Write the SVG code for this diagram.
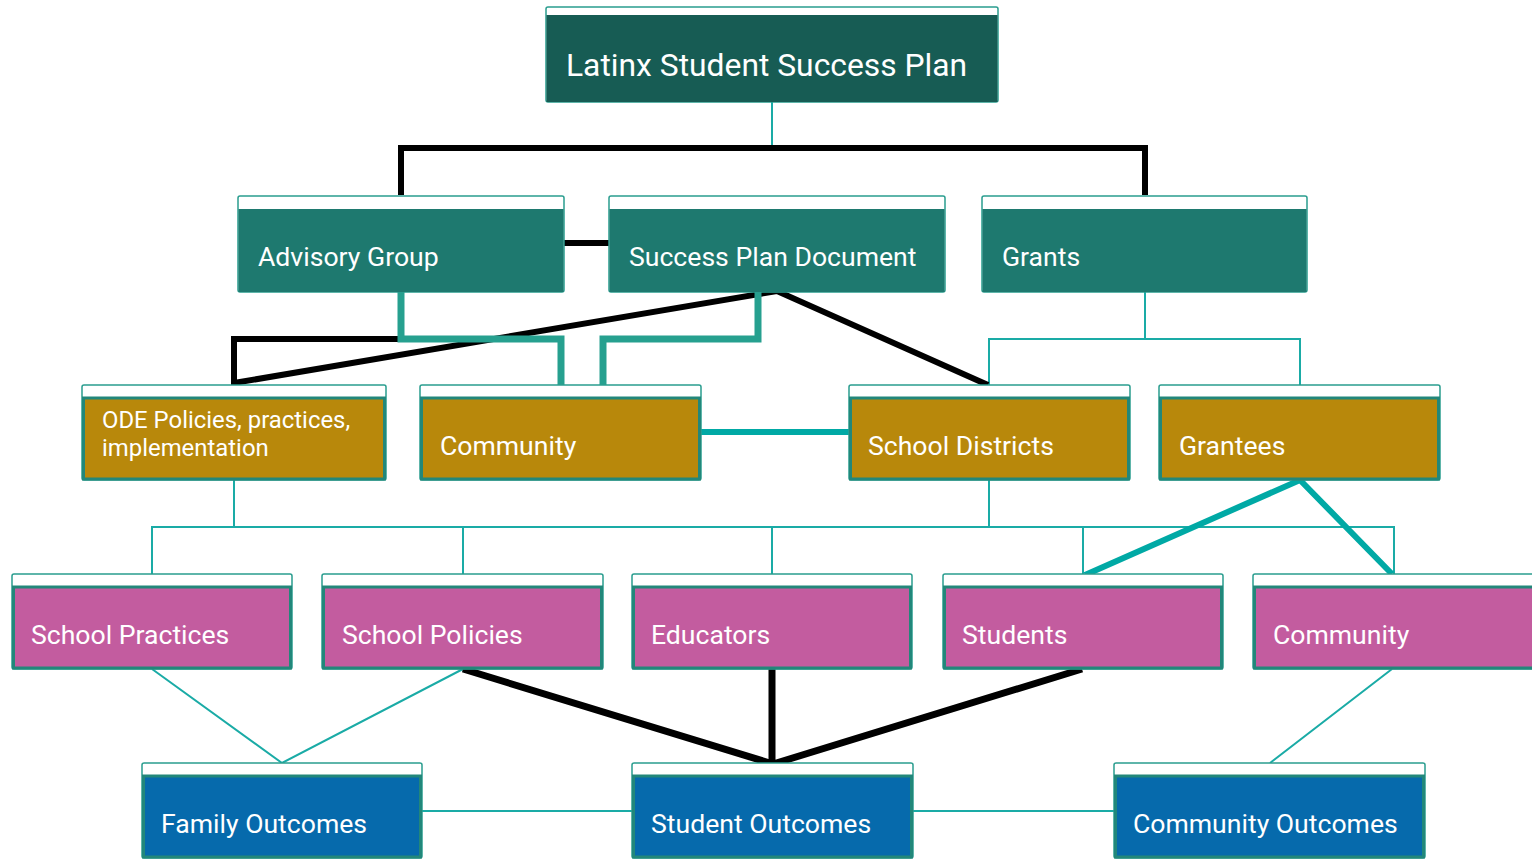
<svg xmlns="http://www.w3.org/2000/svg" width="1532" height="860" viewBox="0 0 1532 860">
<style>
.frame{fill:#ffffff;stroke:#2a9d8f;stroke-width:1.5}
.t1{fill:#175c54}
.t2{fill:#1e796f}
.gold{fill:#b8880b;stroke:#22877a;stroke-width:3}
.pink{fill:#c35c9f;stroke:#22877a;stroke-width:3}
.blue{fill:#066aac;stroke:#22877a;stroke-width:3}
.lbl{font-family:Roboto,"Liberation Sans",sans-serif;fill:#ffffff;font-size:26.6px}
.blk{fill:none;stroke:#000000;stroke-width:6}
.tk{fill:none;stroke:#26a08f;stroke-width:7}
.ta{fill:none;stroke:#00a9a5;stroke-width:6}
.thin{fill:none;stroke:#1aaba6;stroke-width:2}
</style>
<g id="connectors">
<path class="thin" d="M772,102 V148"/>
<path class="blk" d="M401,195 V148 H1145 V195"/>
<path class="blk" d="M564,243 H609"/>
<path class="thin" d="M1145,292 V339 M989,385 V339 H1300 V385"/>
<path class="blk" d="M401,339 H234 V383 L777,291 L988,385"/>
<path class="tk" d="M401,292 V339 H561 V385 M758,292 V339 H603 V385"/>
<path class="ta" d="M701,432 H849"/>
<path class="thin" d="M234,480 V527 M989,480 V527 M152,574 V527 H1394 V574 M463,527 V574 M772,527 V574 M1083,527 V574"/>
<path class="ta" d="M1085,575 L1300,480 L1392,574"/>
<path class="thin" d="M152,669 L282,763 L463,669 M1392,669 L1270,763"/>
<path class="thin" d="M422,811 H632 M913,811 H1114"/>
<path class="blk" d="M463,669 L773,764 M772,669 V764 M1082,669 L773,764" style="stroke-width:7"/>
</g>
<g id="n-plan">
<rect class="frame" x="546" y="7" width="452" height="95" rx="2"/>
<rect class="t1" x="546.5" y="15" width="451" height="87"/>
<text class="lbl" x="566" y="76" style="font-size:31.8px">Latinx Student Success Plan</text>
</g>
<g id="n-advisory">
<rect class="frame" x="238" y="196" width="326" height="96" rx="2"/>
<rect class="t2" x="238.5" y="209" width="325" height="83"/>
<text class="lbl" x="258" y="266">Advisory Group</text>
</g>
<g id="n-spd">
<rect class="frame" x="609" y="196" width="336" height="96" rx="2"/>
<rect class="t2" x="609.5" y="209" width="335" height="83"/>
<text class="lbl" x="629" y="266">Success Plan Document</text>
</g>
<g id="n-grants">
<rect class="frame" x="982" y="196" width="325" height="96" rx="2"/>
<rect class="t2" x="982.5" y="209" width="324" height="83"/>
<text class="lbl" x="1002" y="266">Grants</text>
</g>
<g id="n-ode">
<rect class="frame" x="82" y="385" width="304" height="95" rx="2"/>
<rect class="gold" x="83.5" y="398" width="301" height="81"/>
<text class="lbl" x="102" y="428" style="font-size:23.9px">ODE Policies, practices,</text>
<text class="lbl" x="102" y="456" style="font-size:23.9px">implementation</text>
</g>
<g id="n-community1">
<rect class="frame" x="420" y="385" width="281" height="95" rx="2"/>
<rect class="gold" x="421.5" y="398" width="278" height="81"/>
<text class="lbl" x="440" y="455">Community</text>
</g>
<g id="n-districts">
<rect class="frame" x="849" y="385" width="281" height="95" rx="2"/>
<rect class="gold" x="850.5" y="398" width="278" height="81"/>
<text class="lbl" x="868" y="455">School Districts</text>
</g>
<g id="n-grantees">
<rect class="frame" x="1159" y="385" width="281" height="95" rx="2"/>
<rect class="gold" x="1160.5" y="398" width="278" height="81"/>
<text class="lbl" x="1179" y="455">Grantees</text>
</g>
<g id="n-practices">
<rect class="frame" x="12" y="574" width="280" height="95" rx="2"/>
<rect class="pink" x="13.5" y="587" width="277" height="81"/>
<text class="lbl" x="31" y="644">School Practices</text>
</g>
<g id="n-policies">
<rect class="frame" x="322" y="574" width="281" height="95" rx="2"/>
<rect class="pink" x="323.5" y="587" width="278" height="81"/>
<text class="lbl" x="342" y="644">School Policies</text>
</g>
<g id="n-educators">
<rect class="frame" x="632" y="574" width="280" height="95" rx="2"/>
<rect class="pink" x="633.5" y="587" width="277" height="81"/>
<text class="lbl" x="651" y="644">Educators</text>
</g>
<g id="n-students">
<rect class="frame" x="943" y="574" width="280" height="95" rx="2"/>
<rect class="pink" x="944.5" y="587" width="277" height="81"/>
<text class="lbl" x="962" y="644">Students</text>
</g>
<g id="n-community2">
<rect class="frame" x="1253" y="574" width="290" height="95" rx="2"/>
<rect class="pink" x="1254.5" y="587" width="287" height="81"/>
<text class="lbl" x="1273" y="644">Community</text>
</g>
<g id="n-family">
<rect class="frame" x="142" y="763" width="280" height="95" rx="2"/>
<rect class="blue" x="143.5" y="776" width="277" height="81"/>
<text class="lbl" x="161" y="833">Family Outcomes</text>
</g>
<g id="n-student">
<rect class="frame" x="632" y="763" width="281" height="95" rx="2"/>
<rect class="blue" x="633.5" y="776" width="278" height="81"/>
<text class="lbl" x="651" y="833">Student Outcomes</text>
</g>
<g id="n-commout">
<rect class="frame" x="1114" y="763" width="311" height="95" rx="2"/>
<rect class="blue" x="1115.5" y="776" width="308" height="81"/>
<text class="lbl" x="1133" y="833">Community Outcomes</text>
</g>
</svg>
